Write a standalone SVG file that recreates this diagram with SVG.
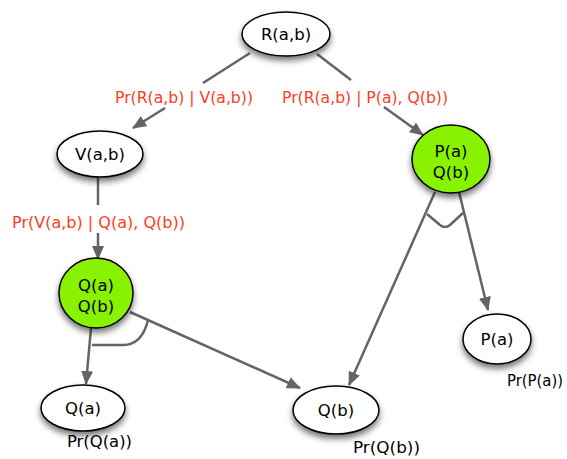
<svg xmlns="http://www.w3.org/2000/svg" width="567" height="459" viewBox="0 0 567 459">
<style>
.node{stroke:#000;stroke-width:1.5;filter:url(#sh)}
.w{fill:#fff}
.g{fill:#88f200}
.t{font-family:"DejaVu Sans",sans-serif;font-size:16.5px;fill:#000;text-anchor:middle}
.lbl{font-family:"DejaVu Sans",sans-serif;font-size:16px;fill:#ff3b1e}
.pr{font-family:"DejaVu Sans",sans-serif;font-size:16px;fill:#000}
.e{fill:none;stroke:#646464;stroke-width:2.5}
.a{marker-end:url(#ah)}
</style>
<defs>
<filter id="sh" x="-30%" y="-30%" width="160%" height="170%">
<feDropShadow dx="0" dy="4" stdDeviation="3" flood-color="#000" flood-opacity="0.55"/>
</filter>
<marker id="ah" viewBox="0 0 14 12" refX="13" refY="6" markerWidth="14" markerHeight="12" markerUnits="userSpaceOnUse" orient="auto">
<path d="M0,0 L14,6 L0,12 z" fill="#646464"/>
</marker>
</defs>
<g id="connectors">
<path class="e" d="M250,53 L203,83"/>
<path class="e a" d="M165,108 L133,128"/>
<path class="e" d="M317,54 L351,80"/>
<path class="e a" d="M384,107 L423,135"/>
<path class="e" d="M98,177 L98,205"/>
<path class="e a" d="M98,233 L98,259"/>
<path class="e a" d="M91,328 L86,384"/>
<path class="e a" d="M130,312 L300,388"/>
<path class="e a" d="M435,192 L349,385"/>
<path class="e a" d="M459,192 L488,310"/>
<path class="e" d="M92,345 L123,345 Q142,345 148,320"/>
<path class="e" d="M427,214 L440,225 Q445,229 450,225 L463,213"/>
</g>
<g id="edge-labels">
<text class="lbl" x="115" y="103" textLength="138" lengthAdjust="spacingAndGlyphs">Pr(R(a,b) | V(a,b))</text>
<text class="lbl" x="282" y="103" textLength="166" lengthAdjust="spacingAndGlyphs">Pr(R(a,b) | P(a), Q(b))</text>
<text class="lbl" x="12" y="228" textLength="173" lengthAdjust="spacingAndGlyphs">Pr(V(a,b) | Q(a), Q(b))</text>
</g>
<g id="R">
<ellipse class="node w" cx="286" cy="34" rx="44" ry="22"/>
<text class="t" x="286" y="40">R(a,b)</text>
</g>
<g id="V">
<ellipse class="node w" cx="100" cy="154" rx="43" ry="23"/>
<text class="t" x="100" y="160">V(a,b)</text>
</g>
<g id="QaQb">
<ellipse class="node g" cx="96" cy="293" rx="37" ry="35"/>
<text class="t" x="96" y="291">Q(a)</text>
<text class="t" x="96" y="312">Q(b)</text>
</g>
<g id="PaQb">
<ellipse class="node g" cx="451" cy="159" rx="39" ry="34"/>
<text class="t" x="451" y="157">P(a)</text>
<text class="t" x="451" y="178">Q(b)</text>
</g>
<g id="Pa">
<ellipse class="node w" cx="497" cy="339" rx="34" ry="25"/>
<text class="t" x="497" y="345">P(a)</text>
<text class="pr" x="507" y="386" textLength="56" lengthAdjust="spacingAndGlyphs">Pr(P(a))</text>
</g>
<g id="Qa">
<ellipse class="node w" cx="83" cy="408" rx="42" ry="23"/>
<text class="t" x="83" y="414">Q(a)</text>
<text class="pr" x="67" y="447" textLength="65" lengthAdjust="spacingAndGlyphs">Pr(Q(a))</text>
</g>
<g id="Qb">
<ellipse class="node w" cx="336" cy="410" rx="43" ry="24"/>
<text class="t" x="336" y="416">Q(b)</text>
<text class="pr" x="353" y="453" textLength="67" lengthAdjust="spacingAndGlyphs">Pr(Q(b))</text>
</g>
</svg>
